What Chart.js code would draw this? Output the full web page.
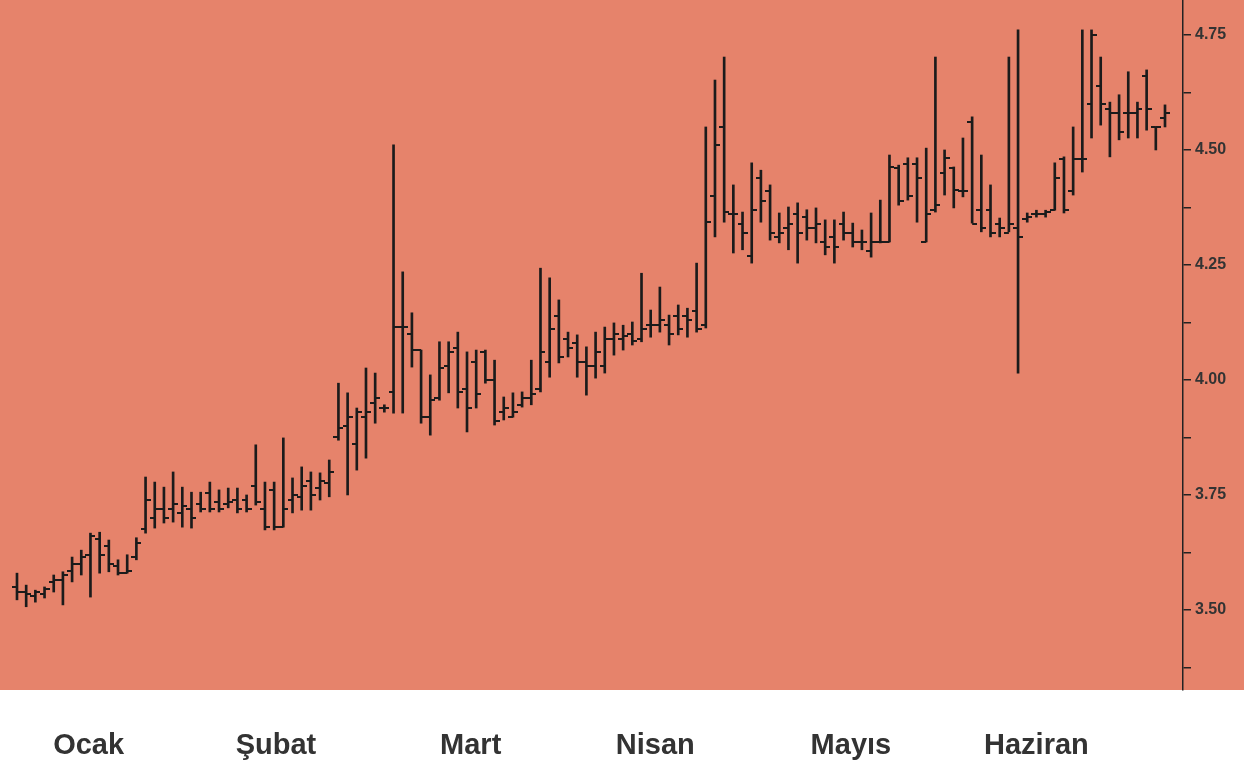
<!DOCTYPE html>
<html>
<head>
<meta charset="utf-8">
<script src="https://cdn.jsdelivr.net/npm/chart.js@4.4.1/dist/chart.umd.min.js"></script>
<style>
  html, body { margin: 0; padding: 0; background: #ffffff; }
  #wrap { width: 1244px; height: 765px; position: relative; }
</style>
</head>
<body>
<div id="wrap"><canvas id="ohlc"></canvas></div>
<script>
// günlük fiyatlar (Ocak - Haziran)
const opens = [
  3.55, 3.54, 3.53, 3.535, 3.56, 3.565, 3.585, 3.60, 3.62, 3.655, 3.64, 3.595, 3.58, 3.615, 3.675, 3.70, 3.72, 3.72,
  3.71, 3.72, 3.73, 3.755, 3.735, 3.73, 3.74, 3.74, 3.77, 3.72, 3.76, 3.68, 3.74, 3.745, 3.78, 3.765, 3.775, 3.876,
  3.90, 3.86, 3.92, 3.95, 3.94, 3.974, 4.115, 4.10, 4.065, 3.92, 3.96, 4.03, 4.07, 3.98, 4.04, 4.06,
  4.00, 3.93, 3.92, 3.945, 3.96, 3.98, 4.04, 4.14, 4.09, 4.08, 4.04, 4.03, 4.03, 4.09, 4.09, 4.10, 4.09, 4.12, 4.12, 4.12, 4.14, 4.14, 4.15,
  4.12, 4.40, 4.55, 4.36, 4.34, 4.27, 4.44, 4.41, 4.31, 4.33, 4.36, 4.355, 4.33, 4.30, 4.31, 4.34, 4.32, 4.30, 4.28,
  4.30, 4.30, 4.46, 4.47, 4.47, 4.30, 4.37, 4.45, 4.46, 4.41, 4.56, 4.37, 4.37, 4.34, 4.32, 4.33, 4.35,
  4.36, 4.36, 4.37, 4.48, 4.41, 4.48, 4.60, 4.64, 4.59, 4.58, 4.58, 4.58, 4.66, 4.55, 4.57
];
const highs = [
  3.58, 3.554, 3.543, 3.55, 3.576, 3.583, 3.615, 3.63, 3.667, 3.669, 3.652, 3.609, 3.62, 3.657, 3.789, 3.778, 3.767, 3.80,
  3.767, 3.756, 3.756, 3.778, 3.761, 3.765, 3.765, 3.75, 3.859, 3.778, 3.778, 3.874, 3.787, 3.811, 3.80, 3.798, 3.826, 3.993,
  3.972, 3.939, 4.026, 4.015, 3.946, 4.511, 4.235, 4.146, 4.065, 4.011, 4.083, 4.083, 4.104, 4.061, 4.065, 4.065,
  4.043, 3.963, 3.972, 3.974, 4.043, 4.243, 4.222, 4.174, 4.104, 4.098, 4.072, 4.104, 4.115, 4.124, 4.119, 4.126, 4.232, 4.152, 4.202, 4.141, 4.163, 4.156, 4.254,
  4.55, 4.652, 4.702, 4.424, 4.365, 4.472, 4.456, 4.424, 4.363, 4.376, 4.385, 4.37, 4.374, 4.348, 4.348, 4.365, 4.341, 4.326, 4.363,
  4.391, 4.489, 4.467, 4.483, 4.483, 4.504, 4.702, 4.50, 4.463, 4.526, 4.572, 4.489, 4.424, 4.352, 4.702, 4.761, 4.363,
  4.369, 4.369, 4.472, 4.485, 4.55, 4.761, 4.761, 4.702, 4.604, 4.62, 4.67, 4.604, 4.674, 4.55, 4.598
];
const lows = [
  3.522, 3.507, 3.517, 3.526, 3.539, 3.511, 3.561, 3.576, 3.528, 3.58, 3.583, 3.576, 3.58, 3.609, 3.667, 3.678, 3.689, 3.691,
  3.68, 3.678, 3.713, 3.713, 3.713, 3.722, 3.711, 3.713, 3.728, 3.674, 3.674, 3.68, 3.711, 3.717, 3.717, 3.739, 3.746, 3.869,
  3.75, 3.804, 3.83, 3.906, 3.93, 3.928, 3.928, 4.028, 3.906, 3.88, 3.956, 3.972, 3.939, 3.887, 3.939, 3.993,
  3.902, 3.913, 3.919, 3.941, 3.946, 3.974, 4.006, 4.037, 4.05, 4.006, 3.967, 4.004, 4.015, 4.054, 4.065, 4.076, 4.083, 4.093, 4.104, 4.076, 4.098, 4.093, 4.104,
  4.113, 4.311, 4.343, 4.276, 4.283, 4.254, 4.343, 4.304, 4.298, 4.283, 4.254, 4.304, 4.298, 4.272, 4.254, 4.304, 4.289, 4.283, 4.267,
  4.298, 4.30, 4.38, 4.391, 4.343, 4.30, 4.365, 4.402, 4.374, 4.398, 4.341, 4.322, 4.311, 4.311, 4.322, 4.015, 4.343,
  4.354, 4.354, 4.369, 4.363, 4.402, 4.452, 4.526, 4.554, 4.485, 4.522, 4.526, 4.526, 4.543, 4.50, 4.55
];
const closes = [
  3.54, 3.535, 3.54, 3.545, 3.565, 3.575, 3.60, 3.615, 3.66, 3.62, 3.60, 3.58, 3.585, 3.645, 3.74, 3.72, 3.70, 3.73,
  3.725, 3.70, 3.72, 3.72, 3.72, 3.735, 3.72, 3.72, 3.735, 3.68, 3.68, 3.72, 3.75, 3.77, 3.75, 3.78, 3.80, 3.895,
  3.92, 3.93, 3.93, 3.961, 3.94, 4.115, 4.115, 4.065, 3.92, 3.956, 4.026, 4.06, 3.974, 3.94, 3.97, 4.00,
  3.91, 3.94, 3.93, 3.96, 3.97, 4.06, 4.11, 4.05, 4.07, 4.04, 4.03, 4.06, 4.09, 4.10, 4.095, 4.085, 4.11, 4.12, 4.13, 4.10, 4.11, 4.13, 4.11,
  4.343, 4.511, 4.365, 4.36, 4.32, 4.37, 4.39, 4.32, 4.32, 4.34, 4.32, 4.33, 4.34, 4.29, 4.29, 4.32, 4.30, 4.30, 4.30,
  4.30, 4.463, 4.39, 4.40, 4.44, 4.36, 4.38, 4.483, 4.413, 4.41, 4.34, 4.33, 4.32, 4.33, 4.34, 4.31, 4.355,
  4.36, 4.365, 4.44, 4.37, 4.48, 4.48, 4.75, 4.60, 4.58, 4.54, 4.58, 4.59, 4.59, 4.55, 4.58
];

// ay etiketleri ve (gün sırasına göre) yerleri
const months = ['Ocak', 'Şubat', 'Mart', 'Nisan', 'Mayıs', 'Haziran'];
const monthDays = [7.8, 28.2, 49.4, 69.5, 90.8, 111.0];

// sağ eksen çentikleri: her 0.125'te bir çizgi, 0.25'lerde yazı
const priceTicks = [3.375, 3.5, 3.625, 3.75, 3.875, 4.0, 4.125, 4.25, 4.375, 4.5, 4.625, 4.75];

const BAR_COLOR = '#1b1b1b';
const BG_COLOR = '#e6836b';

// açılış / kapanış çentikleri için küçük resimler
function tickImage(side) {
  const c = document.createElement('canvas');
  c.width = 10;
  c.height = 2;
  const g = c.getContext('2d');
  g.fillStyle = BAR_COLOR;
  if (side === 'left') g.fillRect(0, 0, 5, 2);
  else g.fillRect(5, 0, 5, 2);
  return c;
}

function noPadding(scale) {
  scale.paddingTop = 0;
  scale.paddingBottom = 0;
  scale.paddingLeft = 0;
  scale.paddingRight = 0;
}

const rangeData = highs.map((h, i) => ({ x: i, y: [lows[i], h] }));
const openData = opens.map((v, i) => ({ x: i, y: v }));
const closeData = closes.map((v, i) => ({ x: i, y: v }));

const background = {
  id: 'background',
  beforeDraw(chart) {
    const { ctx, width, height, chartArea } = chart;
    ctx.save();
    ctx.fillStyle = '#ffffff';
    ctx.fillRect(0, 0, width, height);
    ctx.fillStyle = BG_COLOR;
    ctx.fillRect(0, 0, width, chartArea.bottom);
    ctx.restore();
  }
};

new Chart(document.getElementById('ohlc'), {
  type: 'bar',
  data: {
    datasets: [
      {
        label: 'aralık',
        data: rangeData,
        backgroundColor: BAR_COLOR,
        borderWidth: 0,
        barThickness: 2,
        grouped: false,
        order: 2
      },
      {
        type: 'line',
        label: 'açılış',
        data: openData,
        showLine: false,
        pointStyle: tickImage('left'),
        pointRadius: 5,
        order: 1
      },
      {
        type: 'line',
        label: 'kapanış',
        data: closeData,
        showLine: false,
        pointStyle: tickImage('right'),
        pointRadius: 5,
        order: 1
      }
    ]
  },
  options: {
    responsive: true,
    maintainAspectRatio: false,
    animation: false,
    layout: { padding: 0, autoPadding: false },
    plugins: {
      legend: { display: false },
      tooltip: { enabled: false }
    },
    events: [],
    scales: {
      x: {
        type: 'linear',
        min: -1.85,
        max: 126.96,
        offset: false,
        grid: { display: false, drawTicks: false },
        border: { display: false },
        afterBuildTicks: function (scale) {
          scale.ticks = monthDays.map(v => ({ value: v }));
        },
        afterFit: function (scale) {
          scale.height = 75;
          noPadding(scale);
        },
        ticks: {
          autoSkip: false,
          maxRotation: 0,
          padding: 39,
          color: '#333333',
          font: { family: '"Liberation Sans", Arial, sans-serif', size: 29, weight: 'bold' },
          callback: function (value, index) {
            return months[index];
          }
        }
      },
      y: {
        position: 'right',
        min: 3.326,
        max: 4.826,
        grid: {
          drawOnChartArea: false,
          drawTicks: true,
          tickLength: 8,
          color: '#222222',
          lineWidth: 1.5
        },
        border: { display: true, color: '#222222', width: 1.5 },
        afterBuildTicks: function (scale) {
          scale.ticks = priceTicks.map(v => ({ value: v }));
        },
        afterFit: function (scale) {
          scale.width = 61;
          noPadding(scale);
        },
        ticks: {
          autoSkip: false,
          padding: 4,
          color: '#333333',
          font: { family: '"Liberation Sans", Arial, sans-serif', size: 16, weight: 'bold' },
          callback: function (value) {
            const q = Math.round(value * 1000);
            return q % 250 === 0 ? value.toFixed(2) : '';
          }
        }
      }
    }
  },
  plugins: [background]
});
</script>
</body>
</html>
